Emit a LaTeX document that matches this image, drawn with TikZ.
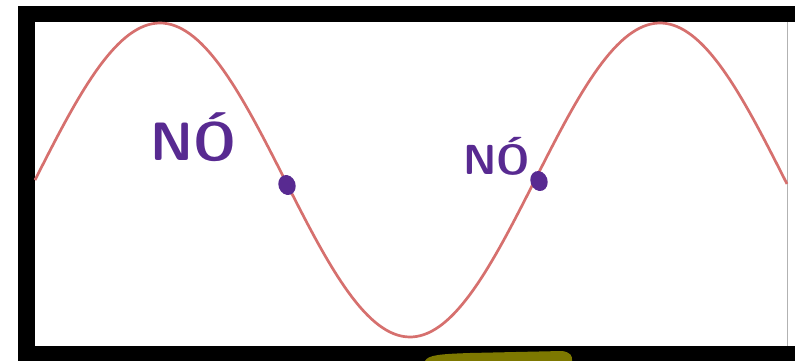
\documentclass[tikz,border=0pt]{standalone}
\usepackage{xcolor}
\usepackage{tikz}
\definecolor{wave}{RGB}{214,112,110}
\definecolor{ink}{RGB}{88,42,145}
\definecolor{marker}{RGB}{125,120,0}

\begin{document}
\begin{tikzpicture}[x=1pt, y=-1pt,
        dot/.style={circle, fill=ink, inner sep=0pt, minimum width=17pt},
        label/.style={text=ink, inner sep=0pt, anchor=base west}]
        \useasboundingbox (0,0) rectangle (795,361);
        % frame
        \fill[black] (18,6) rectangle (795,22);
        \fill[black] (18,6) rectangle (35,361);
        \fill[black] (18,346) rectangle (795,361);
        \draw[gray!60, line width=1pt] (787,22) -- (787,346);
        \fill[marker] (425,361) .. controls (428,355) and (440,354) .. (470,353)
            -- (562,351) .. controls (570,352) and (573,356) .. (572,361) -- cycle;
        % wave
        \draw[wave, line width=2.7pt, domain=35:787, samples=200]
            plot (\x, {180 - 157*sin(0.72*(\x-35))});
        \node[dot, rotate=20, yscale=1.2] (node1) at (287,185) {};
        \node[dot, rotate=20, yscale=1.2] (node2) at (539,181) {};
        \node[label, font=\sffamily\bfseries\fontsize{54}{54}\selectfont] (text1) at (150,160) {NÓ};
        \node[label, font=\sffamily\bfseries\fontsize{42}{42}\selectfont] (text2) at (463,174) {NÓ};
    \end{tikzpicture}
\end{document}
